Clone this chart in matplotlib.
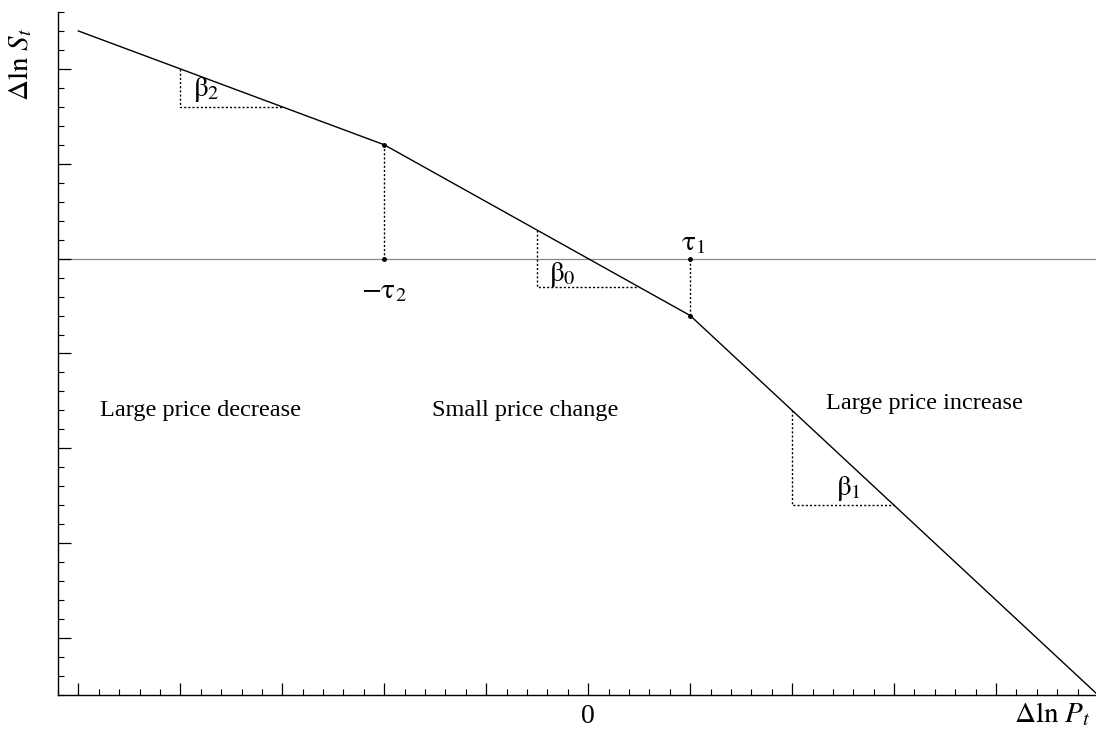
import numpy as np
import matplotlib.pyplot as plt
from matplotlib.ticker import MultipleLocator

plt.rcParams['font.family'] = ['Liberation Serif', 'DejaVu Serif']
plt.rcParams['mathtext.fontset'] = 'stix'

# piecewise response: vertices of the curve
curve_x = [-5.0, -2.0, 1.0, 5.0]
curve_y = [2.4, 1.2, -0.6, -4.6]

# thresholds (-tau2, tau1) and where the curve meets them
thr_x = [-2.0, 1.0]
thr_y = [1.2, -0.6]

# slope triangles: (x0, y0, x1, y1) vertical from (x0,y0) to (x0,y1), horizontal to x1
triangles = {
    r'$\mathrm{\beta}_2$': (-4.0, 2.0, -3.0, 1.6),
    r'$\mathrm{\beta}_0$': (-0.5, 0.3, 0.5, -0.3),
    r'$\mathrm{\beta}_1$': (2.0, -1.6, 3.0, -2.6),
}
tri_label_pos = {
    r'$\mathrm{\beta}_2$': (-3.75, 1.78),
    r'$\mathrm{\beta}_0$': (-0.25, -0.17),
    r'$\mathrm{\beta}_1$': (2.55, -2.42),
}

regions = ['Large price decrease', 'Small price change', 'Large price increase']
region_x = [-3.8, -0.62, 3.3]
region_y = [-1.6, -1.6, -1.53]

fig = plt.figure(figsize=(10.96, 7.40), dpi=100)
ax = fig.add_axes([0.0529, 0.0608, 0.9471, 0.923])

ax.plot(curve_x, curve_y, color='black', lw=1.0)
ax.axhline(0, color='#888888', lw=0.9, zorder=0)

for x, y in zip(thr_x, thr_y):
    ax.plot([x, x], [0, y], color='black', lw=1.0, ls=(0, (1.5, 1.5)))
    ax.plot([x, x], [0, y], 'o', color='black', ms=2.5)

for lab, (x0, y0, x1, y1) in triangles.items():
    ax.plot([x0, x0, x1], [y0, y1, y1], color='black', lw=1.0, ls=(0, (1.5, 1.5)))
    tx, ty = tri_label_pos[lab]
    ax.text(tx, ty, lab, fontsize=21, ha='center', va='center')

ax.text(-2.0, -0.2, r'$-\mathrm{\tau}_2$', fontsize=21, ha='center', va='top')
ax.text(1.03, 0.03, r'$\mathrm{\tau}_1$', fontsize=21, ha='center', va='bottom')

for lab, x, y in zip(regions, region_x, region_y):
    ax.text(x, y, lab, fontsize=17.5, ha='center', va='center')

ax.set_xlim(-5.2, 4.98)
ax.set_ylim(-4.6, 2.6)

ax.spines['top'].set_visible(False)
ax.spines['right'].set_visible(False)
ax.spines['left'].set_linewidth(1.0)
ax.spines['bottom'].set_linewidth(1.0)

ax.xaxis.set_major_locator(MultipleLocator(1))
ax.xaxis.set_minor_locator(MultipleLocator(0.2))
ax.yaxis.set_major_locator(MultipleLocator(1))
ax.yaxis.set_minor_locator(MultipleLocator(0.2))
ax.tick_params(which='major', direction='in', length=9, width=0.9)
ax.tick_params(which='minor', direction='in', length=4, width=0.8)
ax.tick_params(axis='both', which='both', labelleft=False, labelbottom=False)

ax.text(0, -4.7, '0', fontsize=20, ha='center', va='top')
fig.text(1052 / 1096, 1 - 714 / 740, r'$\Delta\mathrm{ln}\ P_t$', fontsize=21,
         ha='center', va='center')
fig.text(20 / 1096, 1 - 64 / 740, r'$\Delta\mathrm{ln}\ S_t$', fontsize=21,
         ha='center', va='center', rotation=90)

fig.savefig('out.png', dpi=100)
